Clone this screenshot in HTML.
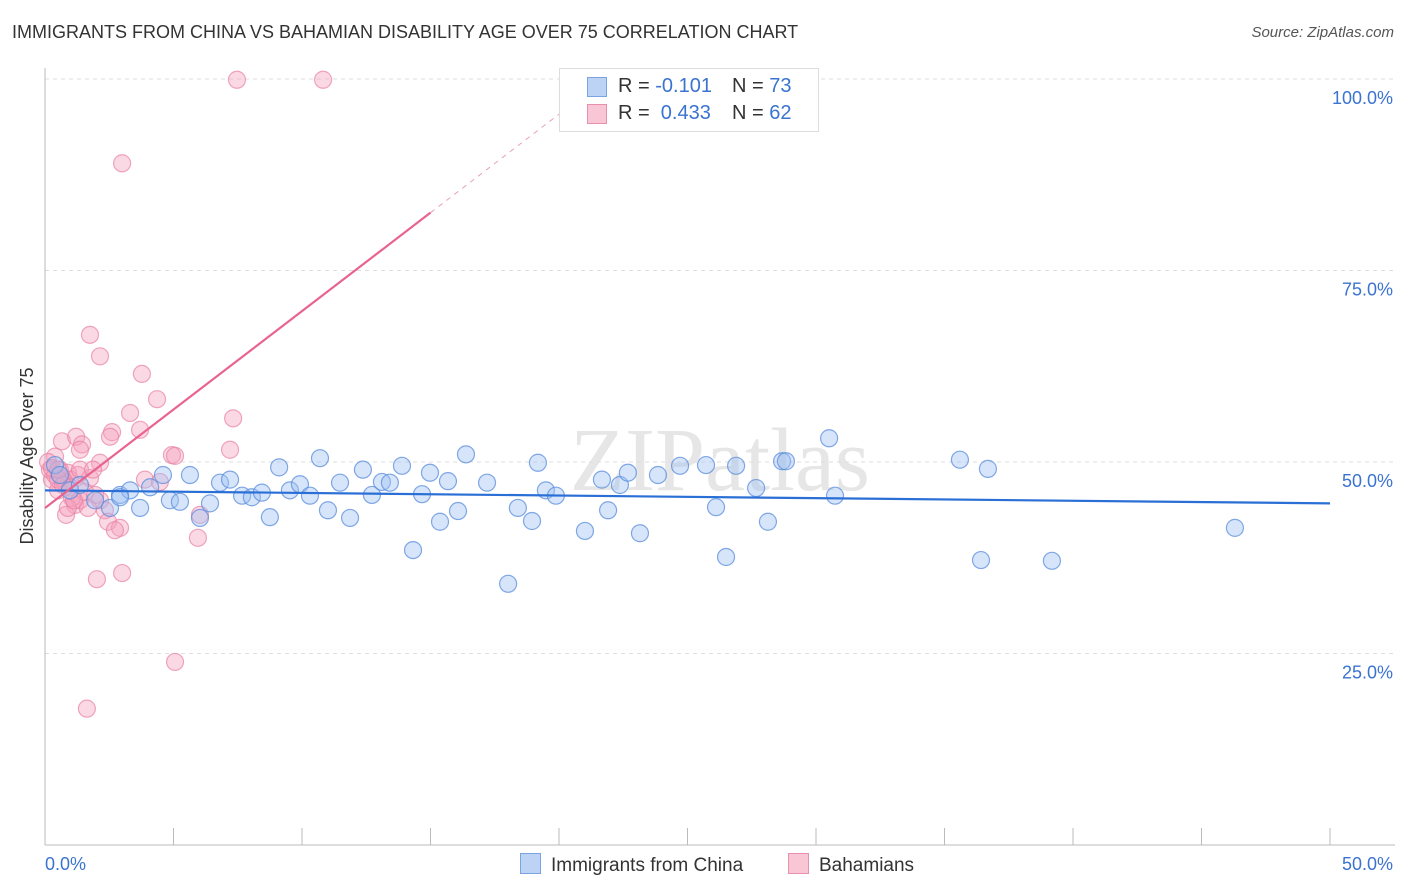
<!DOCTYPE html>
<html><head><meta charset="utf-8"><style>
body{margin:0;background:#fff;font-family:"Liberation Sans",sans-serif;}
#wrap{position:relative;width:1406px;height:892px;overflow:hidden;}
.t{position:absolute;white-space:nowrap;}
</style></head><body>
<div id="wrap">
<div class="t" style="left:12px;top:22px;font-size:18px;color:#333;">IMMIGRANTS FROM CHINA VS BAHAMIAN DISABILITY AGE OVER 75 CORRELATION CHART</div>
<div class="t" style="right:12px;top:24px;font-size:15px;color:#555;font-style:italic;">Source: ZipAtlas.com</div>
<svg id="svg" width="1406" height="892" style="position:absolute;left:0;top:0"></svg>
</div>
<script>
const xTicks=[0,5,10,15,20,25,30,35,40,45,50];
const yTicks=[25,50,75,100];
const yTickLabels=["25.0%","50.0%","75.0%","100.0%"];
const chinaX=[0.39,0.58,0.97,1.36,1.95,2.53,2.92,3.31,3.70,4.09,4.59,4.86,5.25,5.64,6.03,6.42,6.81,7.20,7.67,8.05,8.44,8.75,9.11,9.53,9.92,10.31,10.70,11.01,11.48,11.87,12.37,12.72,13.11,13.42,13.89,14.32,14.67,14.98,15.37,15.68,16.07,16.38,17.20,18.02,18.40,18.95,19.18,19.49,19.88,21.01,21.67,21.91,22.37,22.68,23.15,23.85,24.71,25.72,26.11,26.50,26.89,27.67,28.13,28.68,28.83,30.51,30.74,35.60,36.42,36.69,39.18,46.30,2.92];
const chinaY=[49.6,48.3,46.3,47.0,45.0,44.0,45.7,46.3,44.0,46.7,48.3,45.0,44.8,48.3,42.7,44.6,47.3,47.7,45.6,45.4,46.0,42.8,49.3,46.3,47.1,45.6,50.5,43.7,47.3,42.7,49.0,45.7,47.4,47.3,49.5,38.5,45.8,48.6,42.2,47.5,43.6,51.0,47.3,34.1,44.0,42.3,49.9,46.3,45.6,41.0,47.7,43.7,47.0,48.6,40.7,48.3,49.5,49.6,44.1,37.6,49.5,46.6,42.2,50.1,50.1,53.1,45.6,50.3,37.2,49.1,37.1,41.4,45.4];
const bahX=[7.47,10.82,3.00,1.75,2.14,3.77,4.36,3.31,7.32,2.61,3.70,0.66,1.21,1.44,1.36,2.14,2.53,4.94,5.06,7.20,0.39,0.58,0.89,0.97,1.28,1.75,0.27,0.51,1.17,1.36,2.14,2.33,2.45,2.92,0.82,6.03,5.95,2.02,3.00,5.06,1.63,3.89,4.47,0.19,0.39,0.66,0.78,0.97,1.56,1.95,0.12,0.27,0.51,0.70,1.05,1.67,2.72,0.89,1.13,1.36,1.87,0.51];
const bahY=[99.9,99.9,89.0,66.6,63.8,61.5,58.2,56.4,55.7,53.9,54.2,52.7,53.3,52.3,51.6,49.9,53.3,50.9,50.8,51.6,50.7,49.0,48.6,47.7,48.3,47.9,47.7,46.3,44.4,45.0,45.0,43.7,42.2,41.4,43.1,43.1,40.1,34.7,35.5,23.9,17.8,47.7,47.4,49.0,48.3,47.9,47.3,46.7,46.1,45.7,50.0,49.2,47.7,47.0,45.3,44.0,41.1,44.0,45.0,49.0,49.0,49.0];
const chinaTrend=[46.3,44.6];
const bahTrend=[44.0,2.57];
const NS="http://www.w3.org/2000/svg";
const svg=document.getElementById('svg');
const X=v=>45+v*25.7, Y=v=>845-v*7.66;
function mk(tag,attrs,parent){const e=document.createElementNS(NS,tag);for(const k in attrs)e.setAttribute(k,attrs[k]);(parent||svg).appendChild(e);return e;}
const wm=mk('text',{x:720,y:490,'text-anchor':'middle','font-size':90,'font-family':'Liberation Serif, serif',fill:'#e6e6e6'});


wm.textContent='ZIPatlas';
yTicks.forEach((v,i)=>{
 const g=mk('line',{x1:45,x2:1395,y1:Y(v),y2:Y(v),stroke:'#ddd','stroke-dasharray':'4,4'});
 
 
 const t=mk('text',{x:1393,y:Y(v)+25,'text-anchor':'end','font-size':18,fill:'#3b73d0','font-family':'Liberation Sans, sans-serif'});
 
 
 t.textContent=yTickLabels[i];
});
const ax=mk('line',{x1:45,x2:45,y1:68,y2:845,stroke:'#bbb'});


const bx=mk('line',{x1:45,x2:1395,y1:845,y2:845,stroke:'#bbb'});


xTicks.forEach(v=>{
 const l=mk('line',{x1:X(v),x2:X(v),y1:828,y2:845,stroke:'#bbb'});
 
 
});
const xl0=mk('text',{x:45,y:870,'font-size':18,fill:'#3b73d0','font-family':'Liberation Sans, sans-serif'});


xl0.textContent='0.0%';
const xl1=mk('text',{x:1393,y:870,'text-anchor':'end','font-size':18,fill:'#3b73d0','font-family':'Liberation Sans, sans-serif'});


xl1.textContent='50.0%';
const yt=mk('text',{x:33,y:456,transform:'rotate(-90 33 456)','text-anchor':'middle','font-size':18,fill:'#333','font-family':'Liberation Sans, sans-serif'});


yt.textContent='Disability Age Over 75';
bahX.forEach((v,i)=>{
 const c=mk('circle',{cx:X(v),cy:Y(bahY[i]),r:8.5,fill:'rgba(244,160,188,0.4)',stroke:'rgba(232,130,165,0.7)','stroke-width':1.2});
 
 
});
chinaX.forEach((v,i)=>{
 const c=mk('circle',{cx:X(v),cy:Y(chinaY[i]),r:8.5,fill:'rgba(160,192,244,0.42)',stroke:'rgba(90,140,220,0.75)','stroke-width':1.2});
 
 
});
const bt=mk('line',{x1:X(0),y1:Y(chinaTrend[0]),x2:X(50),y2:Y(chinaTrend[1]),stroke:'#2a6fd6','stroke-width':2.2});


const xEnd=15, xTop=(100-bahTrend[0])/bahTrend[1];
const pt=mk('line',{x1:X(0),y1:Y(bahTrend[0]),x2:X(xEnd),y2:Y(bahTrend[0]+bahTrend[1]*xEnd),stroke:'#e8648f','stroke-width':2.2});


const pd=mk('line',{x1:X(xEnd),y1:Y(bahTrend[0]+bahTrend[1]*xEnd),x2:X(xTop),y2:Y(100),stroke:'#e8a0b8','stroke-width':1,'stroke-dasharray':'5,5'});


</script>
<div class="t" style="left:559px;top:68px;width:258px;height:62px;border:1px solid #ddd;background:#fff;font-size:20px;color:#333;">
 <div style="position:absolute;left:27px;top:8px;width:18px;height:18px;background:#bcd3f5;border:1px solid #7aa4e0;"></div>
 <div style="position:absolute;left:58px;top:6px;">R = <span style="color:#3b73d0">-0.101</span></div>
 <div style="position:absolute;left:172px;top:6px;">N = <span style="color:#3b73d0">73</span></div>
 <div style="position:absolute;left:27px;top:35px;width:18px;height:18px;background:#f8c6d5;border:1px solid #e890ab;"></div>
 <div style="position:absolute;left:58px;top:33px;">R = &nbsp;<span style="color:#3b73d0">0.433</span></div>
 <div style="position:absolute;left:172px;top:33px;">N = <span style="color:#3b73d0">62</span></div>
</div>
<div class="t" style="left:520px;top:853px;font-size:19px;color:#333;">
 <span style="display:inline-block;width:19px;height:19px;background:#bcd3f5;border:1px solid #7aa4e0;vertical-align:-3px;margin-right:10px;"></span>Immigrants from China</div>
<div class="t" style="left:788px;top:853px;font-size:19px;color:#333;">
 <span style="display:inline-block;width:19px;height:19px;background:#f8c6d5;border:1px solid #e890ab;vertical-align:-3px;margin-right:10px;"></span>Bahamians</div>
</body></html>
